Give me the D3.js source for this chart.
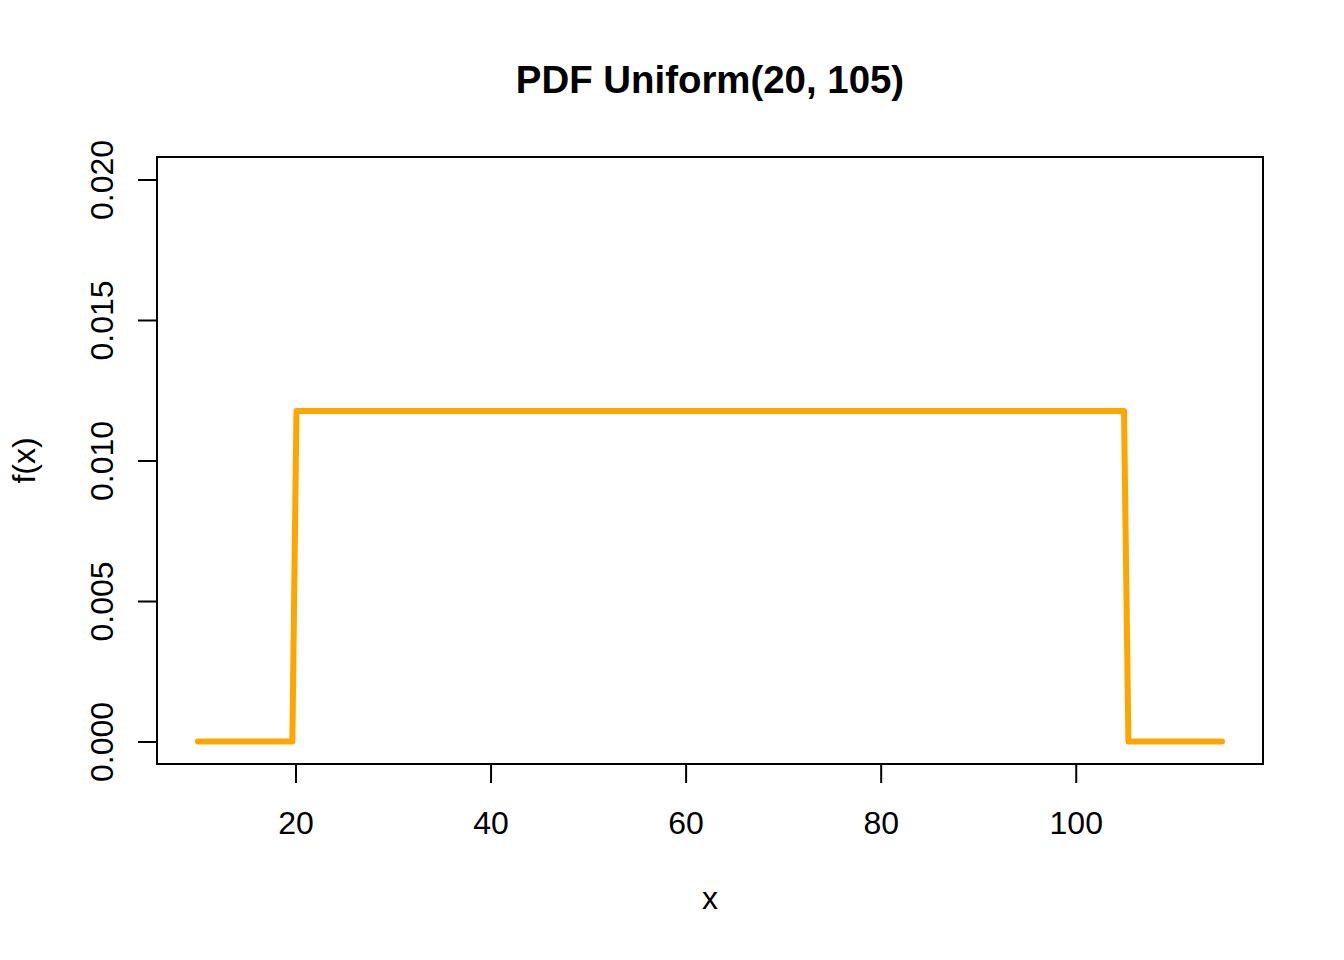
<!DOCTYPE html>
<html>
<head>
<meta charset="utf-8">
<script src="https://cdn.jsdelivr.net/npm/d3@7"></script>
<style>
  body { margin: 0; background: #fff; }
  text { font-family: "Liberation Sans", Arial, sans-serif; fill: #000; }
</style>
</head>
<body>
<script>
// values
const xVals = [10, 19.68, 20.1, 104.95, 105.4, 115];
const yVals = [0, 0, 0.011765, 0.011765, 0, 0];
const xTicks = [20, 40, 60, 80, 100];
const yTicks = [0, 0.005, 0.010, 0.015, 0.020];
const yTickLabels = ["0.000", "0.005", "0.010", "0.015", "0.020"];
const titleText = "PDF Uniform(20, 105)";

const WIDTH = 1344, HEIGHT = 960;
const plotL = 157, plotR = 1263, plotT = 157, plotB = 764;

const svg = d3.select("body").append("svg")
  .attr("width", WIDTH).attr("height", HEIGHT);

// R pads the data range by 4% on each side
const x = d3.scaleLinear().domain([5.8, 119.2]).range([plotL, plotR]);
const y = d3.scaleLinear().domain([-0.0008, 0.0208]).range([plotB, plotT]);

const pts = xVals.map((v, i) => [v, yVals[i]]);

const line = d3.line().x(d => x(d[0])).y(d => y(d[1]));

svg.append("path")
  .datum(pts)
  .attr("d", line)
  .attr("fill", "none")
  .attr("stroke", "#FFA500")
  .attr("stroke-width", 6)
  .attr("stroke-linejoin", "round")
  .attr("stroke-linecap", "round");

// x axis
const gx = svg.append("g")
  .attr("transform", `translate(0,${plotB})`)
  .call(d3.axisBottom(x).tickValues(xTicks).tickSize(19).tickFormat(d3.format("d")));
gx.select(".domain").remove();
gx.selectAll(".tick line").attr("stroke", "#000").attr("stroke-width", 2);
gx.selectAll(".tick text")
  .attr("y", 70).attr("dy", 0)
  .style("font-size", "32px").style("font-family", "'Liberation Sans', Arial, sans-serif");

// y axis
const gy = svg.append("g")
  .attr("transform", `translate(${plotL},0)`)
  .call(d3.axisLeft(y).tickValues(yTicks).tickSize(19).tickFormat((d, i) => yTickLabels[i]));
gy.select(".domain").remove();
gy.selectAll(".tick line").attr("stroke", "#000").attr("stroke-width", 2);
gy.selectAll(".tick text")
  .attr("transform", "rotate(-90)")
  .attr("x", 0).attr("y", -44).attr("dy", 0)
  .attr("text-anchor", "middle")
  .style("font-size", "32px").style("font-family", "'Liberation Sans', Arial, sans-serif");

// box
svg.append("rect")
  .attr("x", plotL).attr("y", plotT)
  .attr("width", plotR - plotL).attr("height", plotB - plotT)
  .attr("fill", "none").attr("stroke", "#000").attr("stroke-width", 2);

// title and axis labels
svg.append("text")
  .attr("x", (plotL + plotR) / 2).attr("y", 93)
  .attr("text-anchor", "middle")
  .style("font-size", "38.4px").style("font-weight", "bold")
  .text(titleText);

svg.append("text")
  .attr("x", (plotL + plotR) / 2).attr("y", 909)
  .attr("text-anchor", "middle")
  .style("font-size", "32px")
  .text("x");

svg.append("text")
  .attr("transform", `translate(35,${(plotT + plotB) / 2}) rotate(-90)`)
  .attr("text-anchor", "middle")
  .style("font-size", "32px")
  .text("f(x)");
</script>
</body>
</html>
